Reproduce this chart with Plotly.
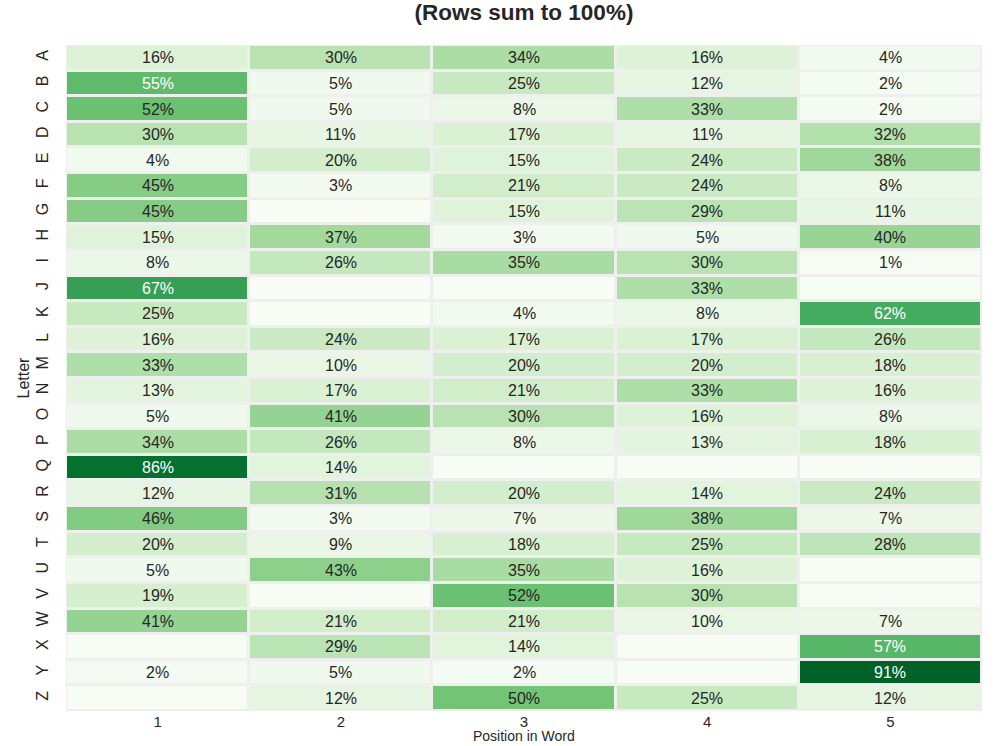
import plotly.graph_objects as go

letters = list("ABCDEFGHIJKLMNOPQRSTUVWXYZ")
positions = [1, 2, 3, 4, 5]
pos_labels = ["1", "2", "3", "4", "5"]

pos1 = [16, 55, 52, 30, 4, 45, 45, 15, 8, 67, 25, 16, 33, 13, 5, 34, 86, 12, 46, 20, 5, 19, 41, 0, 2, 0]
pos2 = [30, 5, 5, 11, 20, 3, 0, 37, 26, 0, 0, 24, 10, 17, 41, 26, 14, 31, 3, 9, 43, 0, 21, 29, 5, 12]
pos3 = [34, 25, 8, 17, 15, 21, 15, 3, 35, 0, 4, 17, 20, 21, 30, 8, 0, 20, 7, 18, 35, 52, 21, 14, 2, 50]
pos4 = [16, 12, 33, 11, 24, 24, 29, 5, 30, 33, 8, 17, 20, 33, 16, 13, 0, 14, 38, 25, 16, 30, 10, 0, 0, 25]
pos5 = [4, 2, 2, 32, 38, 8, 11, 40, 1, 0, 62, 26, 18, 16, 8, 18, 0, 24, 7, 28, 0, 0, 7, 57, 91, 12]

cols = [pos1, pos2, pos3, pos4, pos5]
z = [[cols[j][i] for j in range(5)] for i in range(26)]

greens = [
    [0.0, "#f7fcf5"], [0.125, "#e5f5e0"], [0.25, "#c7e9c0"], [0.375, "#a1d99b"],
    [0.5, "#74c476"], [0.625, "#41ab5d"], [0.75, "#238b45"], [0.875, "#006d2c"],
    [1.0, "#00441b"],
]

FONT = "Liberation Sans, Arial, sans-serif"

fig = go.Figure(go.Heatmap(
    z=z, x=positions, y=letters, colorscale=greens, zmin=0, zmax=100,
    xgap=3, ygap=3, showscale=False, hoverinfo="skip",
))

annotations = []
for i, letter in enumerate(letters):
    for j, p in enumerate(positions):
        v = z[i][j]
        if v == 0:
            continue
        annotations.append(dict(
            x=p, y=letter, xref="x", yref="y", text=f"{v}%", showarrow=False,
            font=dict(family=FONT, size=16,
                      color="#ffffff" if v > 53 else "#262626"),
        ))

# x-axis title placed just under the tick labels
annotations.append(dict(
    x=0.5, y=-0.038, xref="paper", yref="paper", text="Position in Word",
    showarrow=False, xanchor="center", yanchor="middle",
    font=dict(family=FONT, size=14, color="#262626"),
))

fig.update_layout(
    width=1000, height=746,
    margin=dict(l=66, r=18, t=45, b=35),
    paper_bgcolor="white",
    plot_bgcolor="#efefef",
    font=dict(family=FONT, size=15, color="#262626"),
    title=dict(text="<b>(Rows sum to 100%)</b>", x=0.524, xanchor="center",
               y=0.984, yanchor="middle", yref="container",
               font=dict(size=22.5, color="#262626")),
    annotations=annotations,
)
fig.update_xaxes(tickvals=positions, ticktext=pos_labels, showgrid=False, zeroline=False,
                 ticks="", ticklabelstandoff=0, tickfont=dict(size=15, color="#262626"),
                 automargin=False, range=[0.5, 5.5])
fig.update_yaxes(autorange="reversed", showgrid=False, zeroline=False, ticks="",
                 tickangle=-90, ticklabelstandoff=14, tickfont=dict(size=16, color="#262626"),
                 title=dict(text="Letter", standoff=0, font=dict(size=16)), automargin=False)

fig.write_html("out.html", config={"displayModeBar": False},
               post_script="document.body.style.margin='0';")
